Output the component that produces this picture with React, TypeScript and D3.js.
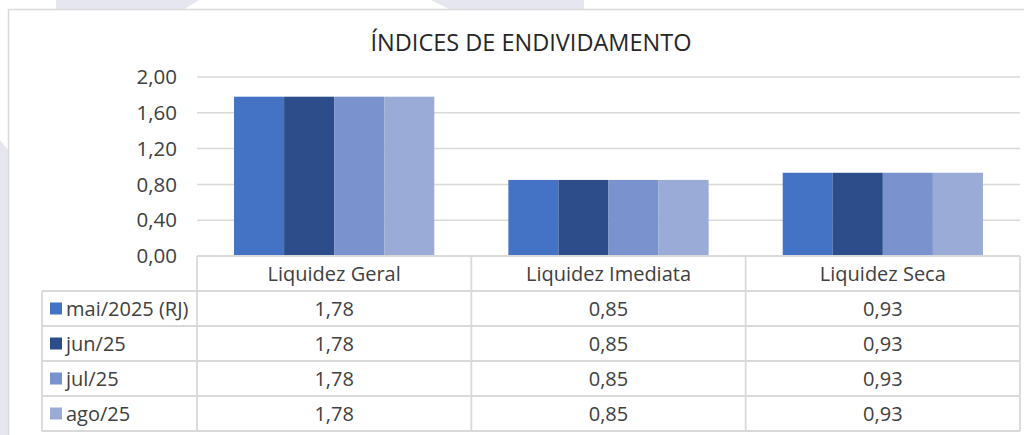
import React from 'react';
import * as d3 from 'd3';

const categories = ['Liquidez Geral', 'Liquidez Imediata', 'Liquidez Seca'];
const seriesNames = ['mai/2025 (RJ)', 'jun/25', 'jul/25', 'ago/25'];
const seriesColors = ['#4472C4', '#2C4D8A', '#7A92CE', '#9AABD7'];

const maiValues = [1.78, 0.85, 0.93];
const junValues = [1.78, 0.85, 0.93];
const julValues = [1.78, 0.85, 0.93];
const agoValues = [1.78, 0.85, 0.93];

const yTicks = [0, 0.4, 0.8, 1.2, 1.6, 2.0];
const title = 'ÍNDICES DE ENDIVIDAMENTO';

const W = 1024;
const H = 435;
const FONT = '"Open Sans", "Noto Sans", sans-serif';

export default function App() {
  const series = [maiValues, junValues, julValues, agoValues].map((values, i) => ({
    name: seriesNames[i],
    color: seriesColors[i],
    values,
  }));

  const plotLeft = 197;
  const plotRight = 1020;
  const y = d3.scaleLinear().domain([0, 2]).range([256, 77]);
  const x0 = d3.scaleBand<string>().domain(categories).range([plotLeft, plotRight]).padding(0);
  const bw = x0.bandwidth();
  const x1 = d3.scaleBand<string>().domain(seriesNames).range([bw * 0.135, bw * 0.865]).padding(0);

  const fmt = (v: number) => v.toFixed(2).replace('.', ',');

  const tableTop = y(0);
  const rowH = 35;
  const legendLeft = 42;
  const line = '#D9D9D9';
  const txt = '#404040';
  const fs = 20;

  return (
    <svg
      width={W}
      height={H}
      style={{ position: 'absolute', left: 0, top: 0, display: 'block', background: '#fff' }}
      fontFamily={FONT}
    >
      {/* watermark shapes behind the chart */}
      <g fill="#E6E6F0">
        <polygon points="56,0 199,0 183,10 56,10" />
        <polygon points="431,0 584,0 584,10 451,10" />
        <polygon points="0,140 8,150 8,435 0,435" />
      </g>

      {/* chart area */}
      <rect x={8.5} y={9.5} width={W} height={H} fill="#fff" stroke={line} strokeWidth={1.5} />

      <text x={531} y={51} textAnchor="middle" fontSize={23.5} fill="#262626">
        {title}
      </text>

      {/* gridlines + y axis labels */}
      {yTicks.map((t) => (
        <g key={t}>
          {t > 0 && (
            <line x1={plotLeft} x2={plotRight} y1={y(t)} y2={y(t)} stroke={line} strokeWidth={1.5} />
          )}
          <text x={177} y={y(t)} dy="0.35em" textAnchor="end" fontSize={20.5} fill={txt}>
            {fmt(t)}
          </text>
        </g>
      ))}

      {/* bars */}
      {categories.map((c, ci) => (
        <g key={c} transform={`translate(${x0(c)},0)`}>
          {series.map((s) => (
            <rect
              key={s.name}
              x={x1(s.name)}
              y={y(s.values[ci])}
              width={x1.bandwidth()}
              height={y(0) - y(s.values[ci])}
              fill={s.color}
            />
          ))}
        </g>
      ))}

      {/* data table */}
      <g stroke={line} strokeWidth={1.8} fill="none">
        <line x1={plotLeft} x2={plotRight} y1={tableTop} y2={tableTop} />
        {series.map((s, i) => (
          <line
            key={s.name}
            x1={legendLeft}
            x2={plotRight}
            y1={tableTop + rowH * (i + 1)}
            y2={tableTop + rowH * (i + 1)}
          />
        ))}
        <line x1={legendLeft} x2={plotRight} y1={tableTop + rowH * 5} y2={tableTop + rowH * 5} />
        <line x1={legendLeft} x2={legendLeft} y1={tableTop + rowH} y2={tableTop + rowH * 5} />
        {categories.map((c) => (
          <line key={c} x1={x0(c)} x2={x0(c)} y1={tableTop} y2={tableTop + rowH * 5} />
        ))}
        <line x1={plotRight} x2={plotRight} y1={tableTop} y2={tableTop + rowH * 5} />
      </g>

      {categories.map((c) => (
        <text
          key={c}
          x={(x0(c) ?? 0) + bw / 2}
          y={tableTop + rowH / 2}
          dy="0.35em"
          textAnchor="middle"
          fontSize={fs}
          fill={txt}
        >
          {c}
        </text>
      ))}

      {series.map((s, i) => {
        const cy = tableTop + rowH * (i + 1) + rowH / 2;
        return (
          <g key={s.name}>
            <rect x={50} y={cy - 6} width={12} height={12} fill={s.color} />
            <text x={66} y={cy} dy="0.35em" fontSize={fs} fill={txt}>
              {s.name}
            </text>
            {categories.map((c, ci) => (
              <text
                key={c}
                x={(x0(c) ?? 0) + bw / 2}
                y={cy}
                dy="0.35em"
                textAnchor="middle"
                fontSize={fs}
                fill={txt}
              >
                {fmt(s.values[ci])}
              </text>
            ))}
          </g>
        );
      })}
    </svg>
  );
}
